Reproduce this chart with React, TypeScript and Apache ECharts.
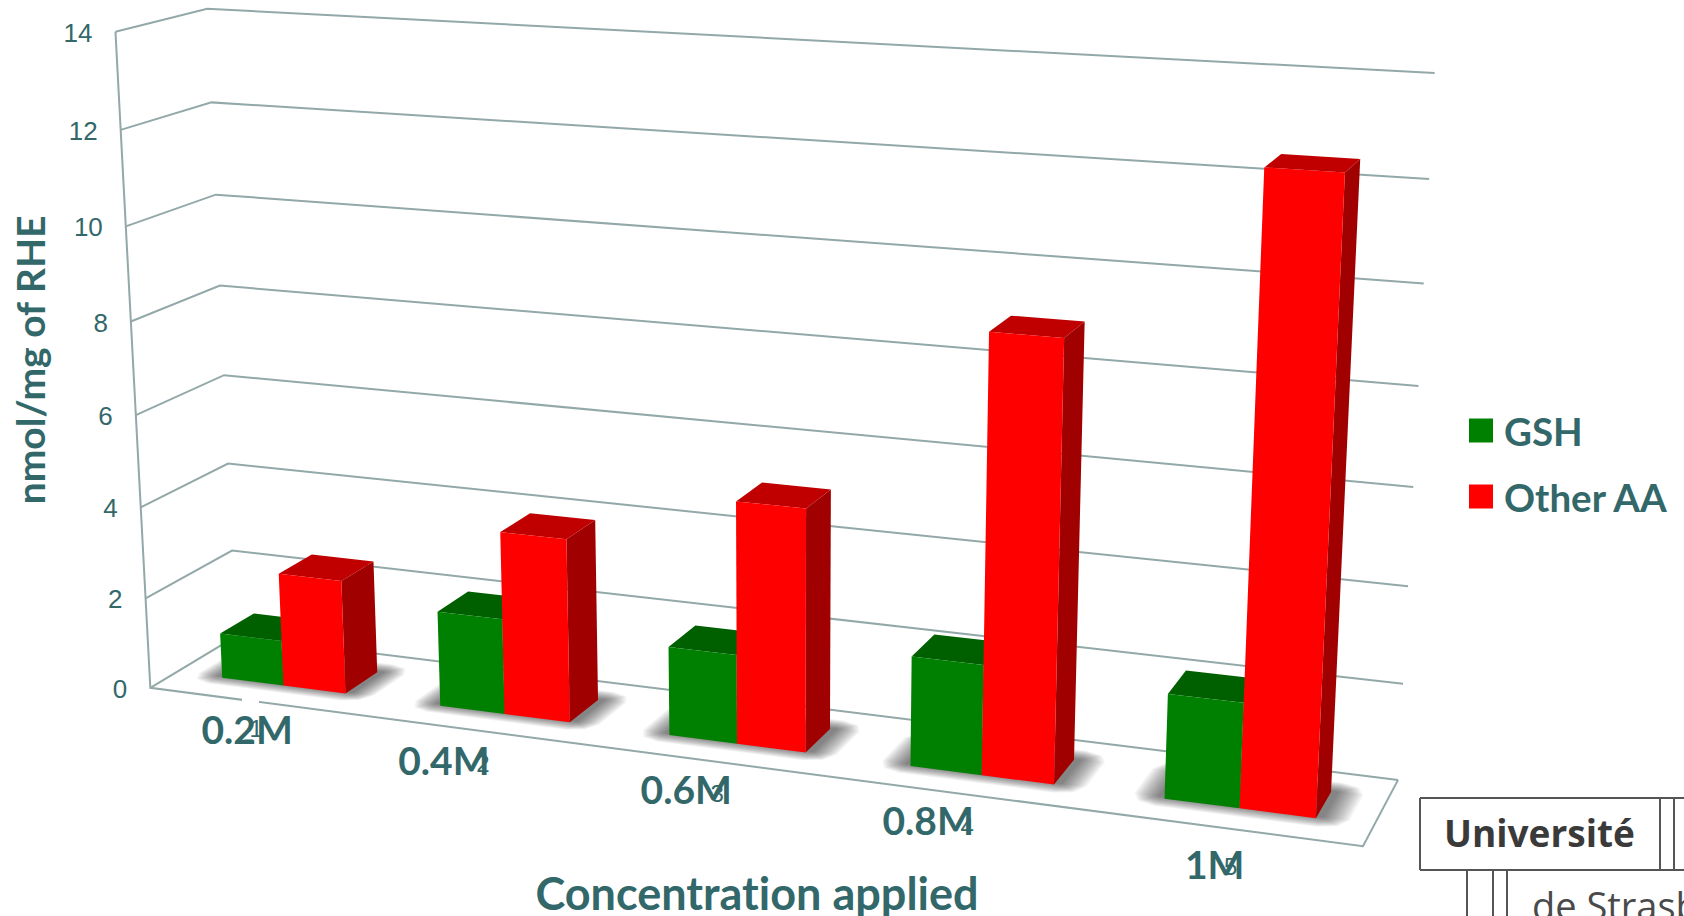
import React, { useEffect, useRef } from "react";
import * as echarts from "echarts";

const categories = ["0.2M", "0.4M", "0.6M", "0.8M", "1M"];
const positions = ["1", "2", "3", "4", "5"];
const gshValues = [1.0, 2.07, 1.9, 2.3, 2.15];
const otherAaValues = [2.5, 3.95, 5.12, 9.0, 12.5];
const yTicks = [0, 2, 4, 6, 8, 10, 12, 14];

const WIDTH = 1684;
const HEIGHT = 916;
const Y_MAX = 14;
const TEAL = "#33686a";
const WALL = "#93a8a8";

// Bar footprint inside one category slot, gap width and gap depth both 150%.
const BAR_W = 1 / 3.5;
const DEPTH_FRONT = 0.3;
const DEPTH_BACK = 0.7;

// The hand-placed category captions sit unevenly along the front edge.
const captionNudge = [[14, 0], [-13, 0], [-6, -4], [-12, -7], [13, 1]];
const digitNudge = [[12, 0], [15, 3], [14, 1], [16, -1], [18, 3]];

// Box corners (slot, value, depth) and where they fall on the page; the camera is fitted to them.
const cameraFit: number[][] = [
  [0, 0, 0, 150, 688],
  [0, 14, 0, 115, 32],
  [0, 14, 1, 207, 9],
  [0, 2, 1, 232, 550],
  [0, 2, 0, 146, 597],
  [0, 12, 0, 121, 130],
  [0, 10, 1, 216, 194],
  [0, 0, 1, 236, 638],
  [5, 0, 0, 1363, 847],
  [5, 0, 1, 1398, 779],
  [5, 14, 1, 1435, 73],
  [5, 12, 1, 1429, 179],
  [5, 6, 1, 1413, 487],
];

function solveLinear(A: number[][], b: number[]): number[] {
  const n = b.length;
  const m = A.map((row, i) => [...row, b[i]]);
  for (let c = 0; c < n; c++) {
    let best = c;
    for (let r = c + 1; r < n; r++) if (Math.abs(m[r][c]) > Math.abs(m[best][c])) best = r;
    [m[c], m[best]] = [m[best], m[c]];
    for (let r = 0; r < n; r++) {
      if (r === c) continue;
      const f = m[r][c] / m[c][c];
      for (let k = c; k <= n; k++) m[r][k] -= f * m[c][k];
    }
  }
  return m.map((row, i) => row[n] / row[i]);
}

// Least-squares projective camera from the box corners.
function fitCamera(): number[] {
  const rows: number[][] = [];
  const rhs: number[] = [];
  for (const [sx, sy, sz, u0, v0] of cameraFit) {
    const x = sx / 5, y = sy / Y_MAX, z = sz, u = u0 / 1000, v = v0 / 1000;
    rows.push([x, y, z, 1, 0, 0, 0, 0, -u * x, -u * y, -u * z]);
    rhs.push(u);
    rows.push([0, 0, 0, 0, x, y, z, 1, -v * x, -v * y, -v * z]);
    rhs.push(v);
  }
  const n = 11;
  const ata = Array.from({ length: n }, () => new Array(n).fill(0));
  const atb = new Array(n).fill(0);
  rows.forEach((r, k) => {
    for (let i = 0; i < n; i++) {
      atb[i] += r[i] * rhs[k];
      for (let j = 0; j < n; j++) ata[i][j] += r[i] * r[j];
    }
  });
  return solveLinear(ata, atb);
}
const cam = fitCamera();

function projectModel(slot: number, value: number, depth: number): number[] {
  const x = slot / 5, y = value / Y_MAX, z = depth;
  const w = cam[8] * x + cam[9] * y + cam[10] * z + 1;
  return [
    (1000 * (cam[0] * x + cam[1] * y + cam[2] * z + cam[3])) / w,
    (1000 * (cam[4] * x + cam[5] * y + cam[6] * z + cam[7])) / w,
  ];
}

// Reads slot and value back from the hidden axes, then projects them into the 3D box.
function place(api: any, category: number, offset: number, value: number, depth: number): number[] {
  const [gx, gy] = api.coord([category, value]);
  const band = api.size([1, 0])[0];
  const slot = gx / band + offset;
  const val = (Y_MAX * (HEIGHT - gy)) / HEIGHT;
  return projectModel(slot, val, depth);
}

function barRenderer(offsetFrom: number, front: string, top: string, side: string) {
  return (_params: any, api: any) => {
    const c = api.value(0);
    const v = api.value(1);
    const x0 = offsetFrom;
    const x1 = offsetFrom + BAR_W;
    const p = (o: number, h: number, d: number) => place(api, c, o, h, d);
    const poly = (points: number[][], fill: string) => ({
      type: "polygon",
      shape: { points },
      style: { fill },
    });
    return {
      type: "group",
      children: [
        poly([p(x1, 0, DEPTH_FRONT), p(x1, 0, DEPTH_BACK), p(x1, v, DEPTH_BACK), p(x1, v, DEPTH_FRONT)], side),
        poly([p(x0, v, DEPTH_FRONT), p(x1, v, DEPTH_FRONT), p(x1, v, DEPTH_BACK), p(x0, v, DEPTH_BACK)], top),
        poly([p(x0, 0, DEPTH_FRONT), p(x1, 0, DEPTH_FRONT), p(x1, v, DEPTH_FRONT), p(x0, v, DEPTH_FRONT)], front),
      ],
    };
  };
}

function renderWallLine(_params: any, api: any) {
  const v = api.value(1);
  const a = place(api, 0, -0.5, v, 0);
  const b = place(api, 0, -0.5, v, 1);
  const c = place(api, categories.length - 1, 0.5, v, 1);
  const label = {
    type: "text",
    x: a[0] - 23,
    y: a[1] + 1,
    style: {
      text: String(v),
      fill: TEAL,
      fontSize: 26,
      fontFamily: "Liberation Sans",
      align: "right",
      verticalAlign: "middle",
    },
  };
  return {
    type: "group",
    children: [
      { type: "polyline", shape: { points: [a, b, c] }, style: { stroke: WALL, lineWidth: 2, fill: "none" } },
      label,
    ],
  };
}

function renderFrame(_params: any, api: any) {
  const last = categories.length - 1;
  const stroke = { stroke: WALL, lineWidth: 2, fill: "none" };
  return {
    type: "polyline",
    shape: { points: [place(api, 0, -0.5, Y_MAX, 0), place(api, 0, -0.5, 0, 0), place(api, last, 0.5, 0, 0), place(api, last, 0.5, 0, 1)] },
    style: stroke,
  };
}

// Soft floor shadow: stacked translucent outlines, widening as they fade.
function renderShadow(_params: any, api: any) {
  const c = api.value(0);
  const x0 = -BAR_W - 0.02;
  const x1 = BAR_W + 0.02;
  const z0 = DEPTH_FRONT + 0.03;
  const z1 = DEPTH_BACK + 0.01;
  const layers = [];
  for (let k = 1; k <= 14; k++) {
    const ex = k * 0.0072;
    const ez = k * 0.0105;
    const p = (o: number, d: number) => place(api, c, o, 0, d);
    layers.push({
      type: "polygon",
      shape: {
        points: [
          p(x0 - ex, z0), p(x0 - ex * 0.7, z0 - ez * 0.7), p(x0, z0 - ez), p(x1, z0 - ez),
          p(x1 + ex * 0.7, z0 - ez * 0.7), p(x1 + ex, z0), p(x1 + ex, z1), p(x1 + ex * 0.7, z1 + ez * 0.7),
          p(x1, z1 + ez), p(x0, z1 + ez), p(x0 - ex * 0.7, z1 + ez * 0.7), p(x0 - ex, z1),
        ],
      },
      style: { fill: "rgba(0,0,0,0.042)" },
    });
  }
  return { type: "group", children: layers };
}

function renderCategoryLabel(_params: any, api: any) {
  const c = api.value(0);
  const a = place(api, c, 0, 0, 0);
  const grow = c * 2;
  return {
    type: "group",
    children: [
      {
        type: "text",
        x: a[0] - 25 + captionNudge[c][0],
        y: a[1] + 27 + grow + captionNudge[c][1],
        style: {
          text: categories[c],
          fill: TEAL,
          fontSize: 39,
          fontWeight: 700,
          fontFamily: "Lato",
          align: "center",
          verticalAlign: "middle",
        },
      },
      {
        type: "text",
        x: a[0] - 14 + digitNudge[c][0],
        y: a[1] + 27 + grow + digitNudge[c][1],
        style: {
          text: positions[c],
          fill: TEAL,
          fontSize: 24,
          fontFamily: "Liberation Sans",
          align: "center",
          verticalAlign: "middle",
        },
      },
    ],
  };
}

function universityMark() {
  const line = { stroke: "#555555", lineWidth: 2 };
  const seg = (x1: number, y1: number, x2: number, y2: number) => ({
    type: "line",
    shape: { x1, y1, x2, y2 },
    style: line,
  });
  return [
    seg(1420, 798, 1684, 798),
    seg(1420, 870, 1684, 870),
    seg(1420, 798, 1420, 870),
    seg(1660, 798, 1660, 870),
    seg(1674, 798, 1674, 870),
    seg(1467, 870, 1467, 916),
    seg(1493, 870, 1493, 916),
    seg(1507, 870, 1507, 916),
    {
      type: "text",
      x: 1444,
      y: 832,
      style: {
        text: "Université",
        fill: "#3a3a3a",
        fontSize: 37,
        fontWeight: 700,
        fontFamily: "Open Sans",
        verticalAlign: "middle",
      },
    },
    {
      type: "text",
      x: 1532,
      y: 905,
      style: {
        text: "de Strasbourg",
        fill: "#4a4a4a",
        fontSize: 38,
        fontFamily: "Open Sans",
        verticalAlign: "middle",
      },
    },
  ];
}

export default function App() {
  const ref = useRef<HTMLDivElement>(null);
  useEffect(() => {
    const chart = echarts.init(ref.current!, undefined, { renderer: "svg" });
    const catData = categories.map((_, i) => [i, 0]);
    chart.setOption({
      animation: false,
      backgroundColor: "#ffffff",
      grid: { left: 0, top: 0, width: WIDTH, height: HEIGHT },
      xAxis: { type: "category", data: categories, show: false },
      yAxis: { type: "value", min: 0, max: Y_MAX, interval: 2, show: false },
      legend: {
        left: 1464,
        top: 406,
        orient: "vertical",
        itemWidth: 24,
        itemHeight: 24,
        itemGap: 27,
        data: [
          { name: "GSH", icon: "rect" },
          { name: "Other AA", icon: "rect" },
        ],
        selectedMode: false,
        textStyle: { color: TEAL, fontSize: 38.5, fontWeight: 700, fontFamily: "Lato", lineHeight: 24, padding: [0, 0, 0, 6] },
      },
      graphic: {
        elements: [
          {
            type: "rect",
            z: 100,
            shape: { x: 242, y: 696, width: 17, height: 9 },
            style: { fill: "#ffffff" },
          },
          {
            type: "text",
            x: 30,
            y: 360,
            rotation: Math.PI / 2,
            z: 100,
            style: {
              text: "nmol/mg of RHE",
              fill: TEAL,
              fontSize: 39,
              fontWeight: 700,
              fontFamily: "Lato",
              align: "center",
              verticalAlign: "middle",
            },
          },
          {
            type: "text",
            x: 757,
            y: 893,
            z: 100,
            style: {
              text: "Concentration applied",
              fill: TEAL,
              fontSize: 45,
              fontWeight: 700,
              fontFamily: "Lato",
              align: "center",
              verticalAlign: "middle",
            },
          },
          ...universityMark(),
        ],
      },
      series: [
        { type: "custom", renderItem: renderWallLine, data: yTicks.map((v) => [0, v]), silent: true, z: 1 },
        { type: "custom", renderItem: renderFrame, data: [[0, 0]], silent: true, z: 1 },
        { type: "custom", renderItem: renderShadow, data: catData, silent: true, z: 2 },
        { type: "custom", renderItem: renderCategoryLabel, data: catData, silent: true, z: 2 },
        {
          type: "custom",
          name: "GSH",
          renderItem: barRenderer(-BAR_W, "#008000", "#006000", "#004d00"),
          data: gshValues.map((v, i) => [i, v]),
          itemStyle: { color: "#008000" },
          silent: true,
          z: 3,
        },
        {
          type: "custom",
          name: "Other AA",
          renderItem: barRenderer(0, "#ff0000", "#c00000", "#a00000"),
          data: otherAaValues.map((v, i) => [i, v]),
          itemStyle: { color: "#ff0000" },
          silent: true,
          z: 4,
        },
      ],
    });
    return () => chart.dispose();
  }, []);
  return (
    <div
      ref={ref}
      style={{ position: "fixed", left: 0, top: 0, width: WIDTH, height: HEIGHT, fontVariantLigatures: "none" }}
    />
  );
}
